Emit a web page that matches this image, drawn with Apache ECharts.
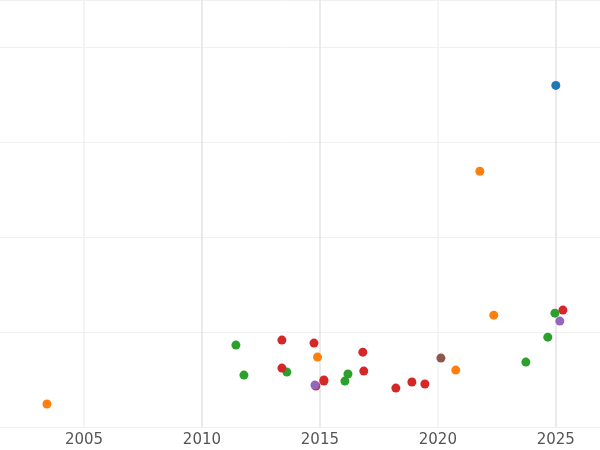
<!DOCTYPE html>
<html><head><meta charset="utf-8">
<script src="https://cdn.jsdelivr.net/npm/echarts@6/dist/echarts.min.js"></script>
<style>html,body{margin:0;overflow:hidden;width:600px;height:450px}#c{width:637px;height:450px;margin-left:-34px}</style></head>
<body><div id="c"></div>
<script>
const blue=[[2025.0,3.6]];
const orange=[[2003.43,0.242],[2021.78,2.695],[2014.9,0.737],[2022.37,1.179],[2020.76,0.6]];
const green=[[2011.44,0.863],[2011.78,0.547],[2013.6,0.579],[2016.06,0.484],[2016.19,0.558],[2023.73,0.684],[2024.66,0.947],[2024.96,1.2]];
const red=[[2013.39,0.916],[2013.39,0.621],[2014.75,0.884],[2014.83,0.432],[2015.17,0.484],[2015.17,0.495],[2016.82,0.789],[2016.86,0.589],[2018.22,0.41],[2018.9,0.474],[2019.45,0.453],[2025.3,1.232]];
const purple=[[2014.79,0.442],[2025.17,1.116]];
const brown=[[2020.13,0.726]];
const groups=[[blue,'#1f77b4'],[orange,'#ff7f0e'],[green,'#2ca02c'],[red,'#d62728'],[purple,'#9467bd'],[brown,'#8c564b']];
const chart=echarts.init(document.getElementById('c'));
chart.setOption({
 animation:false,
 grid:{left:0,right:0,top:0,bottom:23},
 xAxis:{type:'value',min:2000,max:2027,interval:5,axisLine:{show:false},axisTick:{show:false},
  axisLabel:{color:'#555',fontSize:15,showMaxLabel:false,showMinLabel:false,margin:6,fontFamily:'DejaVu Sans',formatter:v=>String(v)},
  splitLine:{show:true,lineStyle:{color:['#eee','#f2f2f2','#e3e3e3','#e3e3e3','#f2f2f2','#e3e3e3'],width:1.5}}},
 yAxis:{type:'value',min:0,max:4.5,interval:1,axisLine:{show:false},axisTick:{show:false},axisLabel:{show:false},
  splitLine:{lineStyle:{color:'#f0f0f0'}}},
 series:groups.map(g=>({type:'scatter',data:g[0],symbolSize:9,itemStyle:{color:g[1],opacity:1}}))
});
</script></body></html>
